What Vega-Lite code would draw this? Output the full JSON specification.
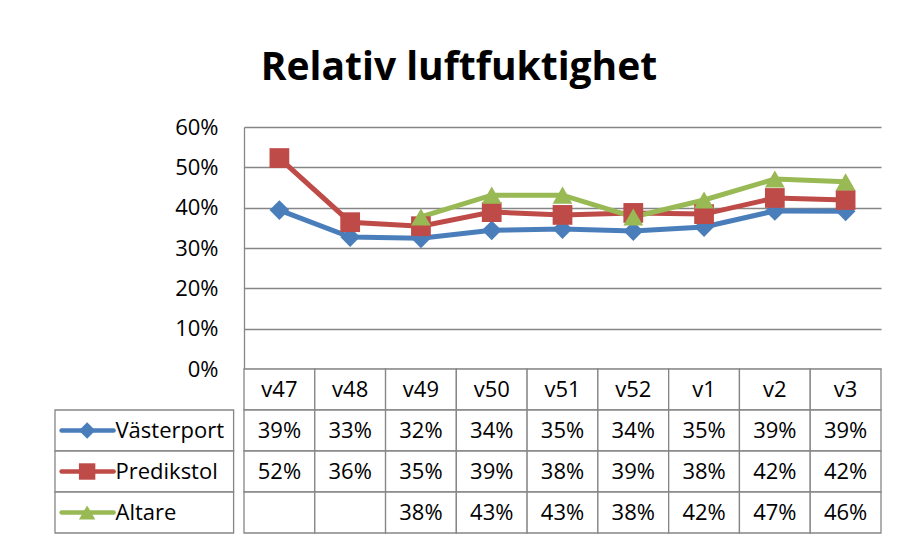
{
  "$schema": "https://vega.github.io/schema/vega-lite/v6.json",
  "background": "white",
  "padding": {"left": 54, "top": 49, "right": 10, "bottom": 2},
  "autosize": {"type": "pad"},
  "title": {"text": "Relativ luftfuktighet", "fontSize": 39, "font": "Open Sans", "fontWeight": "bold", "anchor": "middle", "offset": 28, "dx": -9, "color": "black"},
  "datasets": {
    "d": [
      {"week": "v47", "series": "Västerport", "value": 0.394},
      {"week": "v48", "series": "Västerport", "value": 0.327},
      {"week": "v49", "series": "Västerport", "value": 0.324},
      {"week": "v50", "series": "Västerport", "value": 0.344},
      {"week": "v51", "series": "Västerport", "value": 0.347},
      {"week": "v52", "series": "Västerport", "value": 0.342},
      {"week": "v1", "series": "Västerport", "value": 0.352},
      {"week": "v2", "series": "Västerport", "value": 0.392},
      {"week": "v3", "series": "Västerport", "value": 0.391},
      {"week": "v47", "series": "Predikstol", "value": 0.523},
      {"week": "v48", "series": "Predikstol", "value": 0.364},
      {"week": "v49", "series": "Predikstol", "value": 0.354},
      {"week": "v50", "series": "Predikstol", "value": 0.389},
      {"week": "v51", "series": "Predikstol", "value": 0.382},
      {"week": "v52", "series": "Predikstol", "value": 0.387},
      {"week": "v1", "series": "Predikstol", "value": 0.384},
      {"week": "v2", "series": "Predikstol", "value": 0.424},
      {"week": "v3", "series": "Predikstol", "value": 0.419},
      {"week": "v47", "series": "Altare", "value": null},
      {"week": "v48", "series": "Altare", "value": null},
      {"week": "v49", "series": "Altare", "value": 0.377},
      {"week": "v50", "series": "Altare", "value": 0.431},
      {"week": "v51", "series": "Altare", "value": 0.431},
      {"week": "v52", "series": "Altare", "value": 0.377},
      {"week": "v1", "series": "Altare", "value": 0.419},
      {"week": "v2", "series": "Altare", "value": 0.471},
      {"week": "v3", "series": "Altare", "value": 0.464}
    ]
  },
  "columns": 2,
  "spacing": 0,
  "bounds": "flush",
  "resolve": {"scale": {"x": "independent", "y": "independent", "color": "independent", "shape": "independent"}},
  "concat": [
    {"width": 189, "height": 242, "data": {"values": []}, "mark": "point"},
    {
      "width": 637, "height": 242,
      "data": {"name": "d"},
      "encoding": {
        "x": {"field": "week", "type": "ordinal", "scale": {"type": "point", "padding": 0.5, "domain": ["v47","v48","v49","v50","v51","v52","v1","v2","v3"]}, "axis": null},
        "y": {"field": "value", "type": "quantitative", "scale": {"domain": [0, 0.6]},
              "axis": {"values": [0, 0.1, 0.2, 0.3, 0.4, 0.5, 0.6], "format": ".0%", "grid": true, "gridColor": "#868686", "gridWidth": 1.3, "domainColor": "#868686", "domainWidth": 1.3, "ticks": false, "labelPadding": 26, "labelFontSize": 22, "labelColor": "black", "labelFont": "Open Sans", "title": null}},
        "color": {"field": "series", "type": "nominal", "scale": {"domain": ["Västerport", "Predikstol", "Altare"], "range": ["#4A7EBB", "#BE4B48", "#98B954"]}, "legend": null}
      },
      "layer": [
        {"mark": {"type": "line", "strokeWidth": 5}},
        {"mark": {"type": "point", "filled": true, "opacity": 1, "size": 390},
         "encoding": {"shape": {"field": "series", "type": "nominal", "scale": {"domain": ["Västerport", "Predikstol", "Altare"], "range": ["diamond", "square", "triangle-up"]}, "legend": null}}}
      ]
    },
    {
      "width": 189, "height": 164,
      "data": {"name": "d"},
      "transform": [{"filter": "datum.week == 'v47'"}],
      "encoding": {
        "y": {"field": "series", "type": "nominal", "bandPosition": 0.5, "scale": {"type": "band", "domain": ["hdr", "Västerport", "Predikstol", "Altare"], "paddingInner": 0, "paddingOuter": 0}, "axis": null},
        "color": {"field": "series", "type": "nominal", "scale": {"domain": ["Västerport", "Predikstol", "Altare"], "range": ["#4A7EBB", "#BE4B48", "#98B954"]}, "legend": null}
      },
      "layer": [
        {"mark": {"type": "rect", "fill": "white", "stroke": "#868686", "strokeWidth": 1.3},
         "encoding": {"y": {"field": "series", "type": "nominal"}, "x": {"datum": 0, "type": "quantitative", "scale": {"domain": [0, 189]}, "axis": null}, "x2": {"datum": 189}, "color": {"value": "white"}}},
        {"mark": {"type": "rule", "strokeWidth": 4.5, "strokeCap": "round"},
         "encoding": {"x": {"datum": 7, "type": "quantitative"}, "x2": {"datum": 62}}},
        {"mark": {"type": "point", "filled": true, "opacity": 1, "size": 270},
         "encoding": {"x": {"datum": 34, "type": "quantitative"},
                      "shape": {"field": "series", "type": "nominal", "scale": {"domain": ["Västerport", "Predikstol", "Altare"], "range": ["diamond", "square", "triangle-up"]}, "legend": null}}},
        {"mark": {"type": "text", "align": "left", "baseline": "middle", "fontSize": 22, "font": "Open Sans", "color": "black"},
         "encoding": {"x": {"datum": 64, "type": "quantitative"}, "text": {"field": "series"}, "color": {"value": "black"}}}
      ]
    },
    {
      "width": 637, "height": 164,
      "data": {"name": "d"},
      "encoding": {
        "x": {"field": "week", "type": "ordinal", "scale": {"type": "band", "domain": ["v47","v48","v49","v50","v51","v52","v1","v2","v3"], "paddingInner": 0, "paddingOuter": 0}, "axis": null}
      },
      "layer": [
        {"transform": [{"filter": "datum.series == 'Västerport'"}],
         "mark": {"type": "rect", "fill": "white", "stroke": "#868686", "strokeWidth": 1.3},
         "encoding": {"y": {"datum": "hdr", "type": "nominal", "scale": {"type": "band", "domain": ["hdr", "Västerport", "Predikstol", "Altare"], "paddingInner": 0, "paddingOuter": 0}, "axis": null}}},
        {"mark": {"type": "rect", "fill": "white", "stroke": "#868686", "strokeWidth": 1.3},
         "encoding": {"y": {"field": "series", "type": "nominal"}}},
        {"transform": [{"filter": "datum.series == 'Västerport'"}],
         "mark": {"type": "text", "fontSize": 22, "font": "Open Sans", "color": "black", "baseline": "middle"},
         "encoding": {"y": {"datum": "hdr", "type": "nominal", "bandPosition": 0.5}, "text": {"field": "week"}}},
        {"transform": [{"filter": "datum.value != null"}],
         "mark": {"type": "text", "fontSize": 22, "font": "Open Sans", "color": "black", "baseline": "middle"},
         "encoding": {"y": {"field": "series", "type": "nominal", "bandPosition": 0.5}, "text": {"field": "value", "format": ".0%"}}}
      ]
    }
  ],
  "config": {"view": {"stroke": null}, "font": "Open Sans"}
}
